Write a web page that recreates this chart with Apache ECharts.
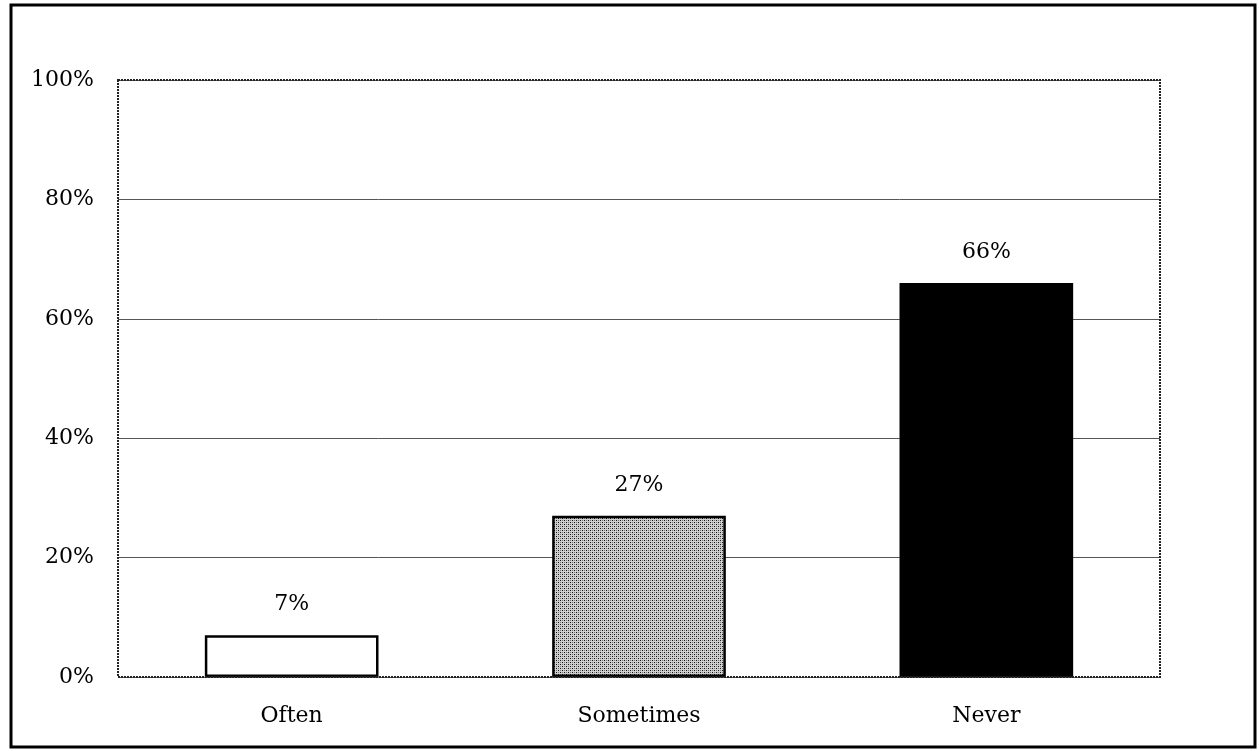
<!DOCTYPE html>
<html><head><meta charset="utf-8">
<script src="https://cdn.jsdelivr.net/npm/echarts@6/dist/echarts.min.js"></script>
<style>html,body{margin:0;padding:0;background:#fff}#c{width:1259px;height:751px}</style>
</head><body><div id="c"></div>
<script>
const categories = ['Often', 'Sometimes', 'Never'];
const values = [7, 27, 66];
const yTicks = [0, 20, 40, 60, 80, 100];

// dotted gray pattern for "Sometimes"
const pc = document.createElement('canvas');
pc.width = 4; pc.height = 4;
const px = pc.getContext('2d');
px.fillStyle = '#d0d0d0'; px.fillRect(0,0,4,4);
px.fillStyle = '#111111';
px.fillRect(0,0,1,1); px.fillRect(2,2,1,1);
px.fillStyle = '#777777';
px.fillRect(2,0,1,1); px.fillRect(0,2,1,1);

const fills = ['#ffffff', {image: pc, repeat: 'repeat'}, '#000000'];
const font = '"DejaVu Serif", "Liberation Serif", serif';
const fs = 22;

const chart = echarts.init(document.getElementById('c'), null, {renderer: 'canvas'});
chart.setOption({
  animation: false,
  backgroundColor: '#fff',
  textStyle: {fontFamily: font},
  graphic: [
    {type: 'rect', shape: {x: 11, y: 5, width: 1244, height: 742}, style: {fill: 'none', stroke: '#000', lineWidth: 3}, silent: true},
    {type: 'rect', shape: {x: 118, y: 80, width: 1042, height: 597}, style: {fill: 'none', stroke: '#222', lineWidth: 2, lineDash: [2, 1]}, silent: true, z: 10}
  ],
  grid: {left: 118, right: 99, top: 80, bottom: 74, containLabel: false},
  xAxis: {
    type: 'category', data: categories,
    axisLine: {show: false}, axisTick: {show: false},
    axisLabel: {color: '#000', fontSize: fs, fontFamily: font, margin: 28}
  },
  yAxis: {
    type: 'value', min: 0, max: 100, interval: 20,
    axisLine: {show: false}, axisTick: {show: false},
    axisLabel: {color: '#000', fontSize: fs, fontFamily: font, margin: 24,
      formatter: v => yTicks.includes(v) ? v + '%' : ''},
    splitLine: {lineStyle: {color: '#555', width: 1}}
  },
  series: [{
    type: 'bar', barWidth: '50%',
    data: values.map((v, i) => ({value: v, itemStyle: {color: fills[i]}})),
    itemStyle: {borderColor: '#000', borderWidth: 2.5},
    label: {show: true, position: 'top', distance: 20, formatter: '{c}%', color: '#000', fontSize: fs, fontFamily: font}
  }]
});
</script></body></html>
